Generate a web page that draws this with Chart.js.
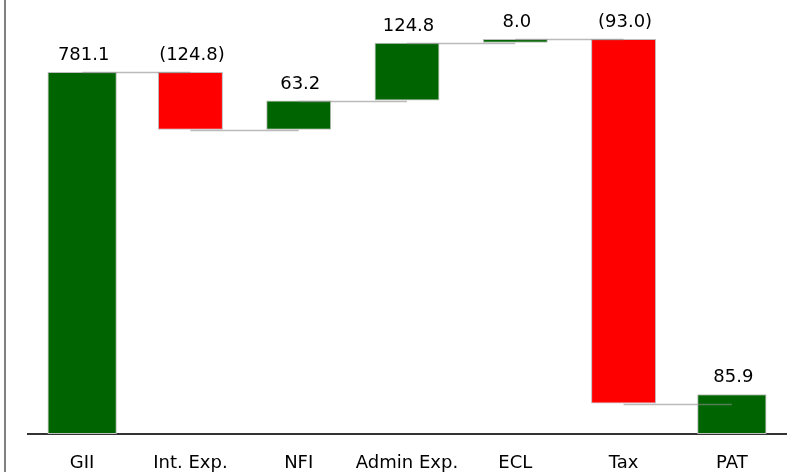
<!DOCTYPE html>
<html>
<head>
<meta charset="utf-8">
<script src="https://cdn.jsdelivr.net/npm/chart.js@4/dist/chart.umd.min.js"></script>
<style>
  html, body { margin: 0; padding: 0; background: #fff; }
</style>
</head>
<body>
<canvas id="bridge" width="795" height="472"></canvas>
<script>
// bridge items, left to right
const categories = ['GII', 'Int. Exp.', 'NFI', 'Admin Exp.', 'ECL', 'Tax', 'PAT'];
// printed amounts (negatives shown in brackets)
const amounts = [781.1, -124.8, 63.2, 124.8, 8.0, -93.0, 85.9];
// bar extents as drawn in the picture
const barStart = [0, 781.1, 656.3, 719.5, 844.3, 852.3, 0];
const barEnd = [781.1, 656.3, 719.5, 844.3, 852.3, 65.7, 85.9];
const isTotal = [true, false, false, false, false, false, true];

const GREEN = 'rgb(0, 100, 0)';
const RED = 'rgb(255, 0, 0)';

function fmt(v) {
    const s = Math.abs(v).toFixed(1);
    return v < 0 ? '(' + s + ')' : s;
}

const totalData = categories.map((c, i) => isTotal[i] ? [barStart[i], barEnd[i]] : null);
const stepData = categories.map((c, i) => isTotal[i] ? null : [barStart[i], barEnd[i]]);
const stepColors = amounts.map(v => v < 0 ? RED : GREEN);

// thin grey lines joining each bar to the next one
const connectors = {
    id: 'connectors',
    afterDatasetsDraw(chart) {
        const ctx = chart.ctx;
        const x = chart.scales.x;
        const y = chart.scales.y;
        ctx.save();
        ctx.strokeStyle = 'rgba(140, 140, 140, 0.6)';
        ctx.lineWidth = 1.5;
        for (let i = 0; i < categories.length - 1; i++) {
            const py = Math.round(y.getPixelForValue(barEnd[i])) + 0.5;
            ctx.beginPath();
            ctx.moveTo(x.getPixelForValue(i), py);
            ctx.lineTo(x.getPixelForValue(i + 1), py);
            ctx.stroke();
        }
        ctx.restore();
    }
};

// value labels above each bar
const valueLabels = {
    id: 'valueLabels',
    afterDraw(chart) {
        const ctx = chart.ctx;
        const x = chart.scales.x;
        const y = chart.scales.y;
        ctx.save();
        ctx.font = '18px "DejaVu Sans"';
        ctx.fillStyle = '#000';
        ctx.textAlign = 'center';
        ctx.textBaseline = 'alphabetic';
        amounts.forEach((v, i) => {
            const top = y.getPixelForValue(Math.max(barStart[i], barEnd[i]));
            ctx.fillText(fmt(v), x.getPixelForValue(i) + 1.5, top - 12);
        });
        // left frame line
        ctx.fillStyle = '#808080';
        ctx.fillRect(4, 0, 2, chart.height);
        ctx.restore();
    }
};

const chart = new Chart(document.getElementById('bridge').getContext('2d'), {
    type: 'bar',
    data: {
        labels: categories,
        datasets: [{
            label: 'Totals',
            data: totalData,
            backgroundColor: GREEN,
            borderColor: 'rgba(190, 190, 190, 1)',
            borderWidth: 1,
            borderSkipped: false,
            barPercentage: 0.64,
            categoryPercentage: 1,
            grouped: false
        }, {
            label: 'Movements',
            data: stepData,
            backgroundColor: stepColors,
            borderColor: 'rgba(190, 190, 190, 1)',
            borderWidth: 1,
            borderSkipped: false,
            barPercentage: 0.6,
            categoryPercentage: 1,
            grouped: false
        }]
    },
    options: {
        responsive: false,
        animation: false,
        devicePixelRatio: 1,
        layout: { padding: { left: 28, right: 9, top: 0, bottom: 0 } },
        plugins: {
            legend: { display: false },
            tooltip: { enabled: false }
        },
        scales: {
            x: {
                grid: { display: false, drawTicks: false },
                border: { display: true, color: '#333', width: 2 },
                ticks: {
                    color: '#000',
                    padding: 19,
                    maxRotation: 0,
                    autoSkip: false,
                    font: { family: 'DejaVu Sans', size: 18 }
                },
                afterFit(scale) {
                    scale.height = 38;
                }
            },
            y: {
                display: false,
                min: 0,
                max: 936.5
            }
        }
    },
    plugins: [connectors, valueLabels]
});
</script>
</body>
</html>
